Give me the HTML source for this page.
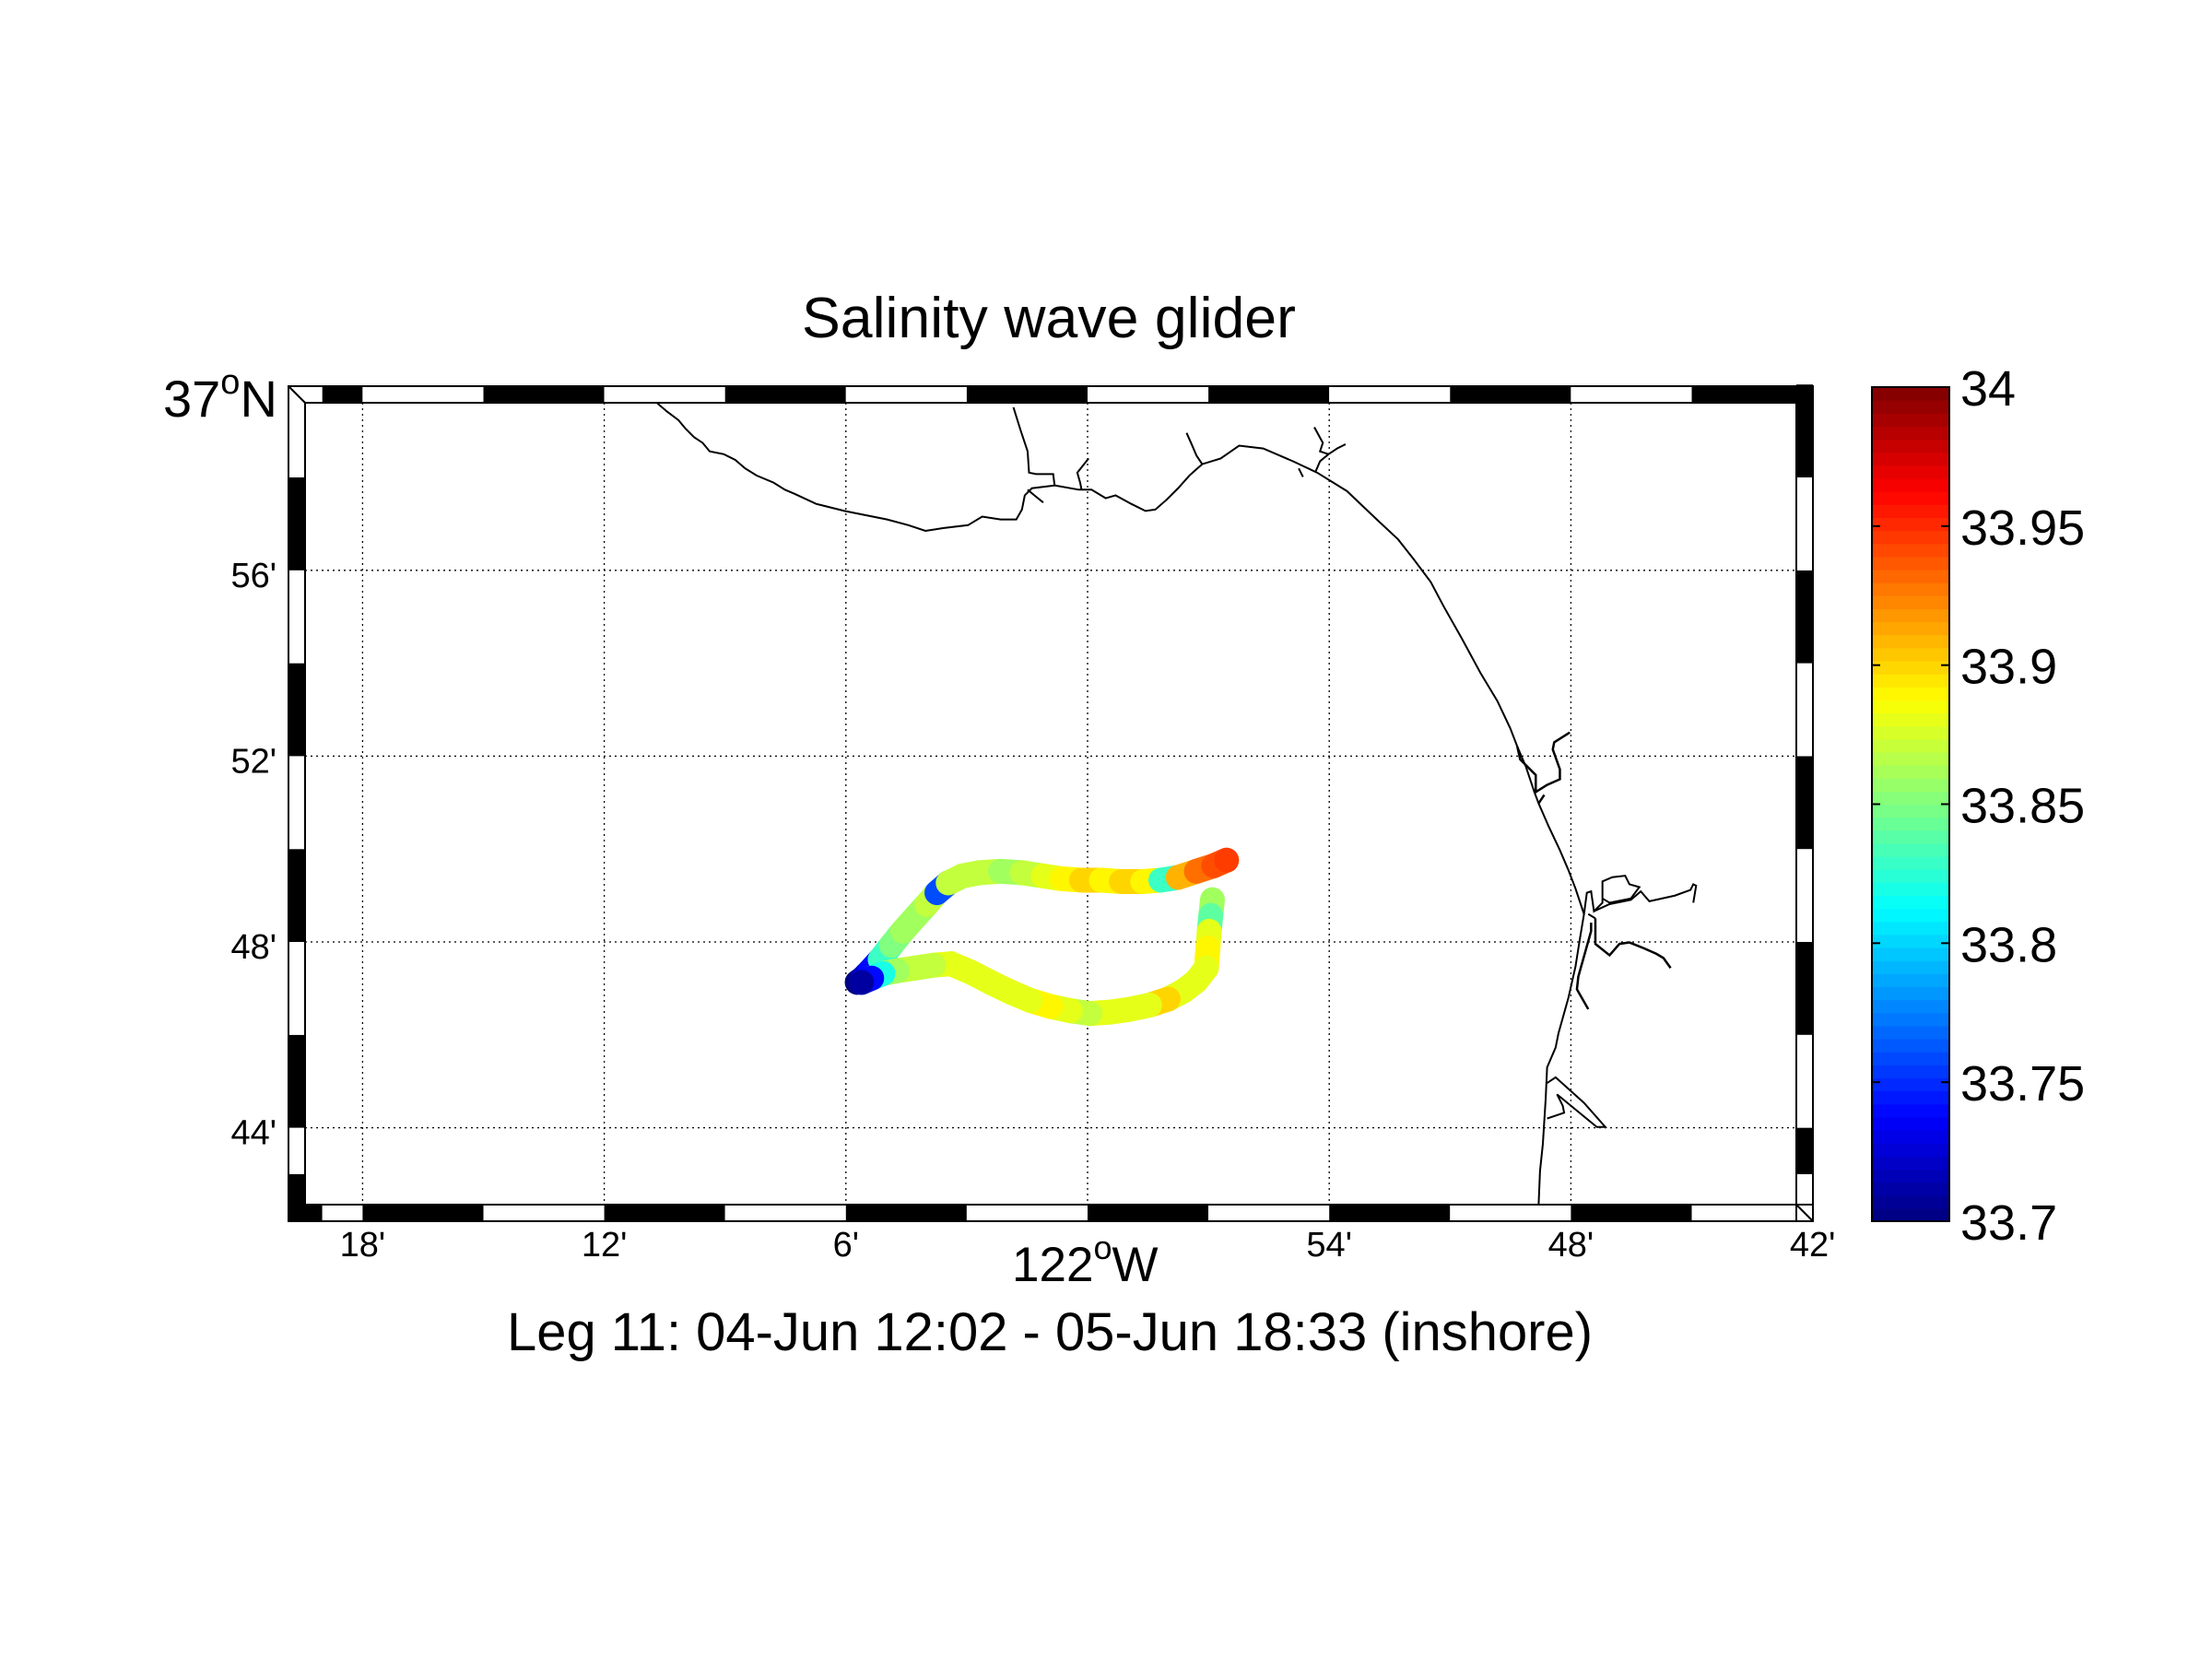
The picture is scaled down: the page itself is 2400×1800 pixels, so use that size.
<!DOCTYPE html>
<html><head><meta charset="utf-8"><style>
html,body{margin:0;padding:0;background:#fff;}
svg{display:block;font-family:"Liberation Sans",Arial,sans-serif;}
</style></head><body>
<svg id="chart" width="2400" height="1800" viewBox="0 0 2400 1800" xmlns="http://www.w3.org/2000/svg">
<rect x="0" y="0" width="2400" height="1800" fill="#fff"/>
<text x="1138" y="366" font-size="62" text-anchor="middle" textLength="536" lengthAdjust="spacingAndGlyphs">Salinity wave glider</text>
<g id="grid"></g>
<g id="coast" transform="scale(1.54)" fill="none" stroke="#000">
<path vector-effect="non-scaling-stroke" stroke-width="2" d="M463,284 L470,290 478,296 483,302 489,308 495,312 500,318 510,320 518,324 525,330 533,335 545,340 553,345 560,348 575,355 595,360 610,363 625,366 640,370 652,374 665,372 682,370 692,364 705,366 716,366 720,359 722,349 727,344 743,342 760,345 769,345 779,351 786,349 797,355 807,360 814,359 822,352 830,344 838,335 847,327 860,323 873,314 890,316 911,325 928,333 949,346 970,366 985,380 996,394 1008,410 1017,427 1030,450 1043,474 1055,494 1064,513 1069,526 1075,540 1081,558 1084,566 1091,582 1099,599 1105,613 1110,626 1116,644 1113,662 1110,681 1105,703 1098,728 1096,738 1090,752 1089,774 1087,806 1085,825 1084,849"/>
<path vector-effect="non-scaling-stroke" stroke-width="2" d="M714,287 L719,303 724,318 725,333 730,334 742,334 743,342 M724,345 L730,350 735,354"/>
<path vector-effect="non-scaling-stroke" stroke-width="2" d="M767,323 L763,328 759,333 761,340 762,345"/>
<path vector-effect="non-scaling-stroke" stroke-width="2" d="M836,305 L840,314 843,321 847,327"/>
<path vector-effect="non-scaling-stroke" stroke-width="2" d="M926,301 L932,312 930,318 936,320 942,316 948,313 M936,320 L930,325 927,332 M915,330 L918,336"/>
<path vector-effect="non-scaling-stroke" stroke-width="2.5" d="M1069,526 L1071,535 1076,540 1082,546 1082,558 1090,553 1099,549 1099,542 1094,528 1095,523 1106,516 M1084,566 L1088,560"/>
<path vector-effect="non-scaling-stroke" stroke-width="2" d="M1116,644 L1118,629 1121,628 1123,642 1129,636 1129,621 1136,618 1145,617 1148,623 1155,625 1149,633 1134,636 1129,633 M1123,642 L1134,637 1149,634 1156,628 1162,635 1180,631 1191,627 1193,623 1195,624 1193,636 M1119,644 L1124,647"/>
<path vector-effect="non-scaling-stroke" stroke-width="2.5" d="M1124,647 L1124,665 1134,673 1141,665 1148,664 1158,668 1167,672 1172,675 1177,682 M1121,650 L1121,656 1112,688 1111,697 1119,711"/>
<path vector-effect="non-scaling-stroke" stroke-width="2" d="M1090,763 L1096,759 1116,777 1131,794 1125,794 1097,771 1101,779 1102,784 1090,788"/>
</g>
<g id="track"></g>
<g id="frame"></g>
<g id="labels"></g>
<g id="cbar"></g>
<text x="1098" y="1390" font-size="53">122<tspan font-size="36" dy="-24">o</tspan><tspan dy="24">W</tspan></text>
<text x="177" y="452" font-size="56">37<tspan font-size="38" dy="-25">o</tspan><tspan dy="25">N</tspan></text>
<text x="1139" y="1465" font-size="58" text-anchor="middle" textLength="1178" lengthAdjust="spacingAndGlyphs">Leg 11: 04-Jun 12:02 - 05-Jun 18:33 (inshore)</text>
</svg>
<script>
// Outbound leg (minutes relative to 122°W, east positive; latitude minutes of 36°N)
const lonA = [-5.72,-5.58,-5.40,-5.15,-4.87,-4.59,-4.27,-3.99,-3.74,-3.46,-3.11,-2.69,-2.16,-1.63,-1.10,-0.64,-0.15,0.34,0.84,1.37,1.82,2.25,2.70,3.13,3.45];
const latA = [47.13,47.22,47.38,47.62,47.93,48.23,48.54,48.81,49.06,49.27,49.42,49.49,49.52,49.49,49.42,49.36,49.33,49.33,49.30,49.30,49.33,49.39,49.52,49.64,49.76];
const salA = [33.70,33.72,33.74,33.83,33.85,33.86,33.86,33.87,33.76,33.87,33.87,33.87,33.86,33.87,33.88,33.89,33.90,33.89,33.90,33.89,33.83,33.91,33.93,33.94,33.945];
// Return leg
const lonB = [3.10,3.06,3.02,2.99,2.95,2.70,2.39,2.00,1.54,1.05,0.56,0.06,-0.43,-0.92,-1.42,-1.91,-2.41,-2.90,-3.39,-3.82,-4.27,-4.73,-5.08,-5.36,-5.61];
const latB = [48.91,48.57,48.23,47.87,47.44,47.16,46.95,46.77,46.64,46.55,46.49,46.46,46.52,46.61,46.74,46.92,47.13,47.35,47.53,47.50,47.44,47.38,47.32,47.22,47.13];
const salB = [33.86,33.84,33.88,33.89,33.88,33.88,33.88,33.90,33.88,33.88,33.88,33.87,33.88,33.89,33.88,33.88,33.88,33.88,33.88,33.87,33.87,33.86,33.82,33.74,33.71];
const lonTicks = [-18,-12,-6,0,6,12,18];
const lonTickLabels = ["18'","12'","6'","","54'","48'","42'"];
const latTicks = [56,52,48,44];
const latTickLabels = ["56'","52'","48'","44'"];
const cbTicks = [33.7,33.75,33.8,33.85,33.9,33.95,34];
const cbTickLabels = ["33.7","33.75","33.8","33.85","33.9","33.95","34"];
const cMin = 33.7, cMax = 34;

const NS = "http://www.w3.org/2000/svg";
function X(m){ return 1180 + 43.7*m; }
function Y(l){ return 1022 - 50.4*(l-48); }
function mk(tag, attrs, parent){ const e=document.createElementNS(NS,tag); for(const k in attrs) e.setAttribute(k,attrs[k]); parent.appendChild(e); return e; }
function jet(v){
  let t=(v-cMin)/(cMax-cMin); t=Math.max(0,Math.min(1,t));
  const c=x=>Math.round(255*Math.max(0,Math.min(1,x)));
  return `rgb(${c(1.5-Math.abs(4*t-3))},${c(1.5-Math.abs(4*t-2))},${c(1.5-Math.abs(4*t-1))})`;
}
const OL=313, OR=1967, OT=419, OB=1325, IL=331, IR=1949, IT=437, IB=1307;

// grid
const grid=document.getElementById('grid');
lonTicks.slice(0,6).forEach(m=>{
  const l=mk('line',{x1:X(m),x2:X(m),y1:IT,y2:IB,stroke:'#000','stroke-width':1.3,'stroke-dasharray':'2 4'},grid);
  
  
});
latTicks.forEach(L=>{
  const l=mk('line',{x1:IL,x2:IR,y1:Y(L),y2:Y(L),stroke:'#000','stroke-width':1.3,'stroke-dasharray':'2 4'},grid);
  
  
});

// track
const trk=document.getElementById('track');
function drawLeg(lon,lat,sal,name){
  for(let i=0;i<lon.length;i++){
    const j=Math.min(i+1,lon.length-1);
    const s=mk('line',{x1:X(lon[i]),y1:Y(lat[i]),x2:X(lon[j]),y2:Y(lat[j]),stroke:jet(sal[i]),'stroke-width':27,'stroke-linecap':'round'},trk);
    
    
  }
}
drawLeg(lonA,latA,salA,'outbound');
drawLeg(lonB,latB,salB,'return');

// frame
const fr=document.getElementById('frame');
const hb=[-19.84,-19,-18,-15,-12,-9,-6,-3,0,3,6,9,12,15,18];
for(let i=0;i<hb.length-1;i++){
  const topBlack = (i%2===1);
  const x1=X(hb[i]), x2=X(hb[i+1]);
  const a=mk('rect',{x:x1,y:OT,width:x2-x1,height:IT-OT,fill:topBlack?'#000':'#fff'},fr);
  
  
  const b=mk('rect',{x:x1,y:IB,width:x2-x1,height:OB-IB,fill:topBlack?'#fff':'#000'},fr);
  
  
}
const vb=[42,43,44,46,48,50,52,54,56,58,60];
for(let i=0;i<vb.length-1;i++){
  const leftBlack=(i%2===0);
  const y1=Y(vb[i+1]), y2=Y(vb[i]);
  const a=mk('rect',{x:OL,y:y1,width:IL-OL,height:y2-y1,fill:leftBlack?'#000':'#fff'},fr);
  
  
  const b=mk('rect',{x:IR,y:y1,width:OR-IR,height:y2-y1,fill:leftBlack?'#fff':'#000'},fr);
  
  
}
[[OL,OT,OR-OL,OB-OT],[IL,IT,IR-IL,IB-IT]].forEach(r=>{
  const e=mk('rect',{x:r[0],y:r[1],width:r[2],height:r[3],fill:'none',stroke:'#000','stroke-width':2},fr);
  
  
});
// corner bevels
[[OL,OT,IL,IT],[OR,OB,IR,IB]].forEach(c=>{
  const e=mk('line',{x1:c[0],y1:c[1],x2:c[2],y2:c[3],stroke:'#000','stroke-width':2},fr);
  
  
});
mk('rect',{x:OL+1,y:OT+1,width:IL-OL-1,height:IT-OT-1,fill:'#fff'},fr);
mk('line',{x1:OL,y1:OT,x2:IL,y2:IT,stroke:'#000','stroke-width':2},fr);
mk('rect',{x:IR,y:IB,width:OR-IR-1,height:OB-IB-1,fill:'#fff'},fr);
mk('line',{x1:OR,y1:OB,x2:IR,y2:IB,stroke:'#000','stroke-width':2},fr);
mk('line',{x1:IR,y1:IB,x2:OR,y2:IB,stroke:'#000','stroke-width':2},fr);
mk('line',{x1:IR,y1:IB,x2:IR,y2:OB,stroke:'#000','stroke-width':2},fr);

// labels
const lab=document.getElementById('labels');
lonTicks.forEach((m,i)=>{
  if(!lonTickLabels[i]) return;
  const t=mk('text',{x:X(m),y:1363,'font-size':38,'text-anchor':'middle'},lab);
  t.textContent=lonTickLabels[i];
  
  
});
latTicks.forEach((L,i)=>{
  const t=mk('text',{x:300,y:Y(L)+18,'font-size':38,'text-anchor':'end'},lab);
  t.textContent=latTickLabels[i];
  
  
});

// colorbar
const cb=document.getElementById('cbar');
const CX=2031, CW=84, CT=420, CB=1325;
function CY(v){ return CB-(v-cMin)/(cMax-cMin)*(CB-CT); }
for(let k=0;k<64;k++){
  const v0=cMin+(cMax-cMin)*k/64, v1=cMin+(cMax-cMin)*(k+1)/64;
  const r=mk('rect',{x:CX,y:CY(v1),width:CW,height:CY(v0)-CY(v1)+0.6,fill:jet((v0+v1)/2)},cb);
  
  
}
mk('rect',{x:CX,y:CT,width:CW,height:CB-CT,fill:'none',stroke:'#000','stroke-width':2},cb);
cbTicks.forEach((v,i)=>{
  const y=CY(v);
  mk('line',{x1:CX,x2:CX+9,y1:y,y2:y,stroke:'#000','stroke-width':2},cb);
  mk('line',{x1:CX+CW-9,x2:CX+CW,y1:y,y2:y,stroke:'#000','stroke-width':2},cb);
  const t=mk('text',{x:2127,y:y+20,'font-size':54},cb);
  t.textContent=cbTickLabels[i];
  
  
});
</script>
</body></html>
